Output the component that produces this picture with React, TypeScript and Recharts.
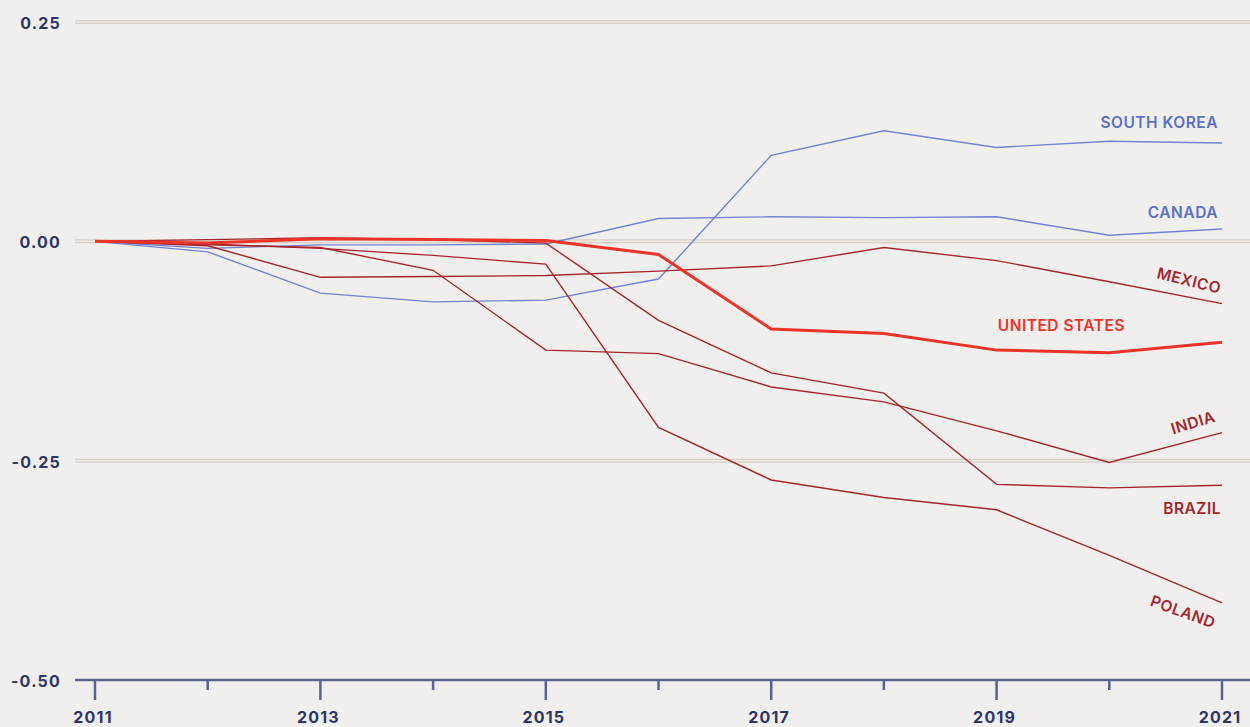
import React from 'react';
import { LineChart, Line, XAxis, YAxis, CartesianGrid, ReferenceLine } from 'recharts';

const years = [2011, 2012, 2013, 2014, 2015, 2016, 2017, 2018, 2019, 2020, 2021];

const southKorea = [0, -0.012, -0.059, -0.069, -0.067, -0.043, 0.098, 0.126, 0.107, 0.114, 0.112];
const canada = [0, -0.008, -0.004, -0.004, -0.003, 0.026, 0.028, 0.027, 0.028, 0.007, 0.014];
const mexico = [0, -0.005, -0.041, -0.040, -0.039, -0.034, -0.028, -0.007, -0.022, -0.046, -0.071];
const unitedStates = [0, -0.002, 0.003, 0.002, 0.001, -0.015, -0.100, -0.105, -0.124, -0.127, -0.115];
const india = [0, -0.004, -0.007, -0.033, -0.124, -0.128, -0.166, -0.183, -0.216, -0.252, -0.218];
const brazil = [0, 0.002, 0.004, 0.002, -0.002, -0.090, -0.150, -0.173, -0.277, -0.281, -0.278];
const poland = [0, -0.003, -0.008, -0.016, -0.026, -0.212, -0.272, -0.292, -0.306, -0.358, -0.412];

const yTicks = [-0.5, -0.25, 0, 0.25];
const gridValues = [-0.25, 0, 0.25];
const labeledYears = [2011, 2013, 2015, 2017, 2019, 2021];

const data = years.map((year, i) => ({
  year,
  southKorea: southKorea[i],
  canada: canada[i],
  mexico: mexico[i],
  unitedStates: unitedStates[i],
  india: india[i],
  brazil: brazil[i],
  poland: poland[i],
}));

const BLUE = '#7183d2';
const DARK_RED = '#a4262c';
const RED = '#ec3328';
const NAVY = '#2d3466';
const FONT = 'Inter, "Noto Sans", sans-serif';

// label placement relative to the last point of each line
const series = [
  { key: 'southKorea', name: 'SOUTH KOREA', color: BLUE, width: 1.4, dx: -4, dy: -21, angle: 0, anchor: 'end' },
  { key: 'canada', name: 'CANADA', color: BLUE, width: 1.4, dx: -4, dy: -17, angle: 0, anchor: 'end' },
  { key: 'mexico', name: 'MEXICO', color: DARK_RED, width: 1.4, dx: -33, dy: -23, angle: 14, anchor: 'middle' },
  { key: 'india', name: 'INDIA', color: DARK_RED, width: 1.4, dx: -29, dy: -10, angle: -17, anchor: 'middle' },
  { key: 'brazil', name: 'BRAZIL', color: DARK_RED, width: 1.4, dx: -1, dy: 23, angle: 0, anchor: 'end' },
  { key: 'poland', name: 'POLAND', color: DARK_RED, width: 1.4, dx: -39, dy: 9, angle: 20, anchor: 'middle' },
  { key: 'unitedStates', name: 'UNITED STATES', color: RED, width: 3, dx: -97, dy: -17, angle: 0, anchor: 'end' },
];

const makeLabel = (s: any) => (props: any) => {
  const { x, y, index } = props;
  if (index !== years.length - 1) return null;
  const lx = x + s.dx;
  const ly = y + s.dy;
  return (
    <text
      x={lx}
      y={ly}
      textAnchor={s.anchor}
      dominantBaseline="central"
      transform={s.angle ? `rotate(${s.angle} ${lx} ${ly})` : undefined}
      fill={s.color === BLUE ? '#5b6fc6' : s.color}
      fontFamily={FONT}
      fontSize={15.5}
      fontWeight={600}
      letterSpacing={0.5}
    >
      {s.name}
    </text>
  );
};

const XTick = (props: any) => {
  const { x, y, payload } = props;
  const major = labeledYears.includes(payload.value);
  return (
    <g>
      <line x1={x} x2={x} y1={y} y2={y + (major ? 20 : 10)} stroke="#5b6190" strokeWidth={2.5} />
      {major && (
        <text x={x - 2} y={y + 37} textAnchor="middle" dominantBaseline="central" fill={NAVY}
          fontFamily={FONT} fontSize={16} fontWeight={700} letterSpacing={1.2}>
          {payload.value}
        </text>
      )}
    </g>
  );
};

const YTick = (props: any) => {
  const { x, y, payload } = props;
  return (
    <text x={x} y={y + 1} textAnchor="end" dominantBaseline="central" fill={NAVY}
      fontFamily={FONT} fontSize={16} fontWeight={700} letterSpacing={1.2}>
      {payload.value.toFixed(2)}
    </text>
  );
};

export default function App() {
  return (
    <div style={{ width: 1250, height: 727, background: '#f0efed' }}>
      <style>{'body{margin:0;background:#f0efed}'}</style>
      <LineChart width={1250} height={727} data={data} margin={{ top: 22, right: 0, bottom: 0, left: 0 }}>
        <CartesianGrid horizontal vertical={false} stroke="#d8cfc4" strokeWidth={4} horizontalValues={gridValues} />
        {gridValues.map((v) => (
          <ReferenceLine key={v} y={v} stroke="#eeebe6" strokeWidth={1.5} />
        ))}
        <XAxis
          dataKey="year"
          type="number"
          domain={[2011, 2021]}
          ticks={years}
          interval={0}
          padding={{ left: 20, right: 28 }}
          height={47}
          tickSize={0}
          tickMargin={0}
          tickLine={false}
          axisLine={{ stroke: '#5b6190', strokeWidth: 2.5 }}
          tick={<XTick />}
        />
        <YAxis
          type="number"
          domain={[-0.5, 0.25]}
          ticks={yTicks}
          width={75}
          axisLine={false}
          tickLine={false}
          tickSize={6}
          tickMargin={8}
          tick={<YTick />}
        />
        {series.map((s) => (
          <Line
            key={s.key}
            type="linear"
            dataKey={s.key}
            stroke={s.color}
            strokeWidth={s.width}
            dot={false}
            activeDot={false}
            isAnimationActive={false}
            label={makeLabel(s)}
          />
        ))}
      </LineChart>
    </div>
  );
}
